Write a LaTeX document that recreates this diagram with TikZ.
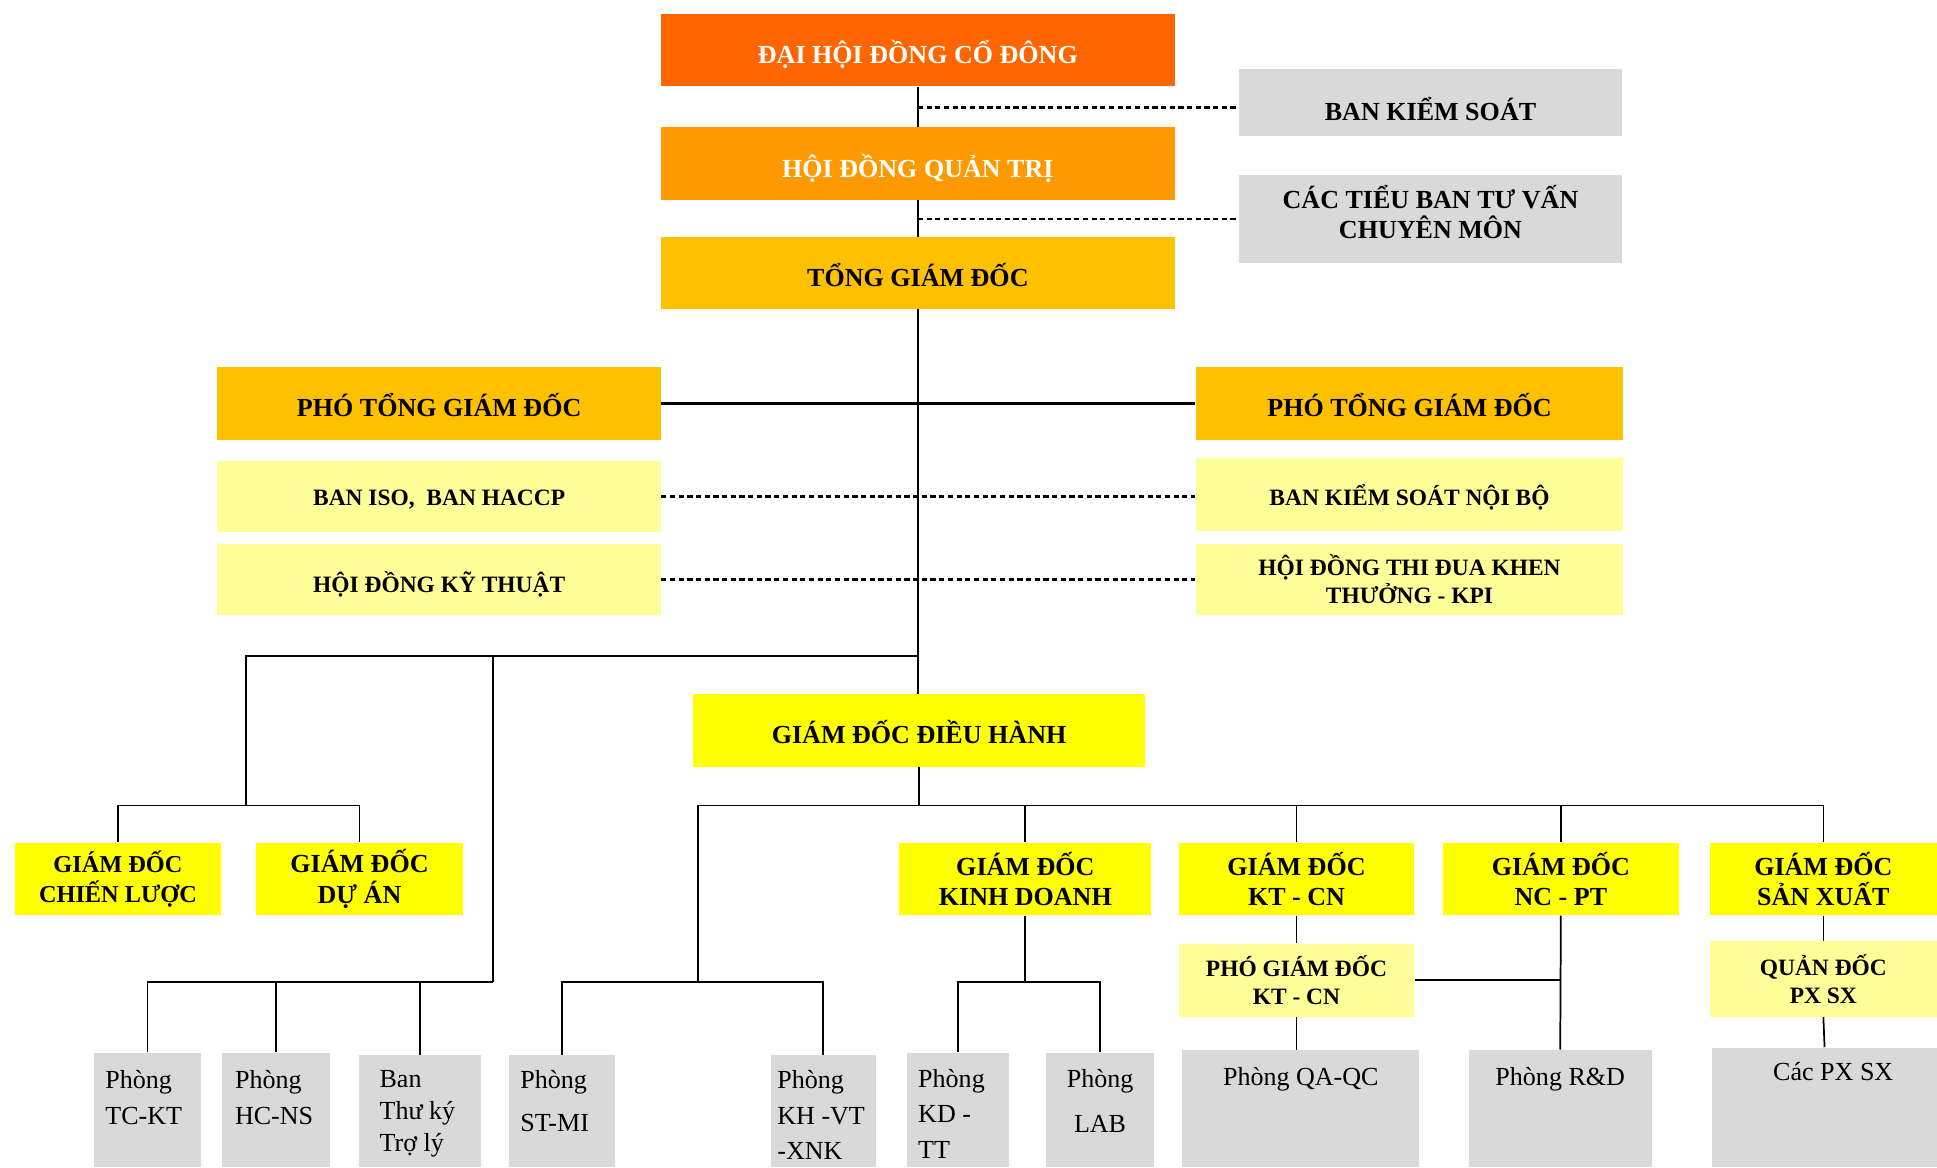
\documentclass[tikz,border=0pt]{standalone}
\usepackage{fontspec}
\setmainfont{Liberation Serif}
\definecolor{dhcolor}{HTML}{FF6600}
\definecolor{qtcolor}{HTML}{FF9900}
\definecolor{tgcolor}{HTML}{FFC000}
\definecolor{gdcolor}{HTML}{FFFF00}
\definecolor{lycolor}{HTML}{FFFF99}
\definecolor{gycolor}{HTML}{D9D9D9}

\begin{document}
\begin{tikzpicture}[x=0.25mm,y=-0.25mm,
  box/.style={inner sep=0pt,align=center,font=\bfseries\fontsize{15}{17.5}\selectfont},
  sbox/.style={box,font=\bfseries\fontsize{13.5}{16}\selectfont},
  capline/.style={text height=#1,text depth=0pt},
  gbox/.style={fill=gycolor,inner sep=0pt},
  ptext/.style={inner sep=0pt,align=left,anchor=north west},
  link/.style={line width=1pt},
  dlink/.style={line width=1.3pt,dash pattern=on 3pt off 2pt}]
  \useasboundingbox[fill=white] (0,0) rectangle (1568,945);

  % top levels
  \node[box,capline=15pt,fill=dhcolor,text=white,minimum width=104mm,minimum height=14.75mm] (dhdcd) at (743,40.5) {ĐẠI HỘI ĐỒNG CỔ ĐÔNG};
  \node[box,capline=15.5pt,fill=qtcolor,text=white,minimum width=104mm,minimum height=14.75mm] (hdqt) at (743,132.5) {HỘI ĐỒNG QUẢN TRỊ};
  \node[box,capline=15pt,fill=tgcolor,minimum width=104mm,minimum height=14.5mm] (tgd) at (743,221) {TỔNG GIÁM ĐỐC};
  \node[box,capline=21pt,fill=gycolor,minimum width=77.5mm,minimum height=13.5mm] (bks) at (1158,83) {BAN KIỂM SOÁT};
  \node[gbox,minimum width=77.5mm,minimum height=17.75mm] (ctb) at (1158,177.5) {};
  \node[box] (ctb-t) at (1158,171.5) {CÁC TIỂU BAN TƯ VẤN\\CHUYÊN MÔN};

  % deputies
  \node[box,capline=15pt,fill=tgcolor,minimum width=89.75mm,minimum height=14.75mm] (ptgdl) at (355.5,326.5) {PHÓ TỔNG GIÁM ĐỐC};
  \node[box,capline=15pt,fill=tgcolor,minimum width=86.5mm,minimum height=14.75mm] (ptgdr) at (1141,326.5) {PHÓ TỔNG GIÁM ĐỐC};
  \node[sbox,capline=10.4pt,fill=lycolor,minimum width=89.75mm,minimum height=14.5mm] (iso) at (355.5,402) {BAN ISO,\ \ BAN HACCP};
  \node[sbox,capline=15pt,fill=lycolor,minimum width=89.75mm,minimum height=14.5mm] (hdkt) at (355.5,469) {HỘI ĐỒNG KỸ THUẬT};
  \node[sbox,capline=11.8pt,fill=lycolor,minimum width=86.5mm,minimum height=14.75mm] (ksnb) at (1141,400.5) {BAN KIỂM SOÁT NỘI BỘ};
  \node[sbox,fill=lycolor,minimum width=86.5mm,minimum height=14.5mm] (thidua) at (1141,469) {HỘI ĐỒNG THI ĐUA KHEN\\THƯỞNG - KPI};

  % directors
  \node[box,capline=15pt,fill=gdcolor,minimum width=91.5mm,minimum height=14.75mm] (gddh) at (744,591.5) {GIÁM ĐỐC ĐIỀU HÀNH};
  \node[box,fill=gdcolor,minimum width=41.75mm,minimum height=14.75mm,font=\bfseries\fontsize{14}{17}\selectfont] (gdcl) at (95.5,711.5) {GIÁM ĐỐC\\CHIẾN LƯỢC};
  \node[box,fill=gdcolor,minimum width=42mm,minimum height=14.75mm] (gdda) at (291,711.5) {GIÁM ĐỐC\\DỰ ÁN};
  \node[box,fill=gdcolor,minimum width=51mm,minimum height=14.75mm] (gdkd) at (830,711.5) {GIÁM ĐỐC\\KINH DOANH};
  \node[box,fill=gdcolor,minimum width=47.75mm,minimum height=14.75mm] (gdkt) at (1049.5,711.5) {GIÁM ĐỐC\\KT - CN};
  \node[box,fill=gdcolor,minimum width=47.75mm,minimum height=14.75mm] (gdnc) at (1263.5,711.5) {GIÁM ĐỐC\\NC - PT};
  \node[box,fill=gdcolor,minimum width=46mm,minimum height=14.75mm] (gdsx) at (1476,711.5) {GIÁM ĐỐC\\SẢN XUẤT};
  \node[sbox,fill=lycolor,minimum width=47.75mm,minimum height=14.75mm] (pgdkt) at (1049.5,793.5) {PHÓ GIÁM ĐỐC\\KT - CN};
  \node[sbox,fill=lycolor,minimum width=46mm,minimum height=15.25mm] (qdpx) at (1476,792.5) {QUẢN ĐỐC\\PX SX};

  % departments
  \node[gbox,minimum width=21.75mm,minimum height=23.25mm] (tckt) at (119.5,898.5) {};
  \node[gbox,minimum width=21.75mm,minimum height=23.25mm] (hcns) at (223.5,898.5) {};
  \node[gbox,minimum width=24.5mm,minimum height=22.75mm] (tky) at (340,899.5) {};
  \node[gbox,minimum width=21.5mm,minimum height=22.75mm] (stmi) at (455,899.5) {};
  \node[gbox,minimum width=21.25mm,minimum height=22.75mm] (khvt) at (666.5,899.5) {};
  \node[gbox,minimum width=20.75mm,minimum height=23.25mm] (kdtt) at (775.5,898.5) {};
  \node[gbox,minimum width=21.75mm,minimum height=23.25mm] (lab) at (890.5,898.5) {};
  \node[gbox,minimum width=48mm,minimum height=23.75mm] (qaqc) at (1053,897.5) {};
  \node[gbox,minimum width=37mm,minimum height=23.75mm] (rd) at (1263,897.5) {};
  \node[gbox,minimum width=45.5mm,minimum height=24.25mm] (pxsx) at (1477,896.5) {};

  \node[ptext,font=\fontsize{15}{21}\selectfont] (tckt-t) at (85,866) {Phòng\\TC-KT};
  \node[ptext,font=\fontsize{15}{21}\selectfont] (hcns-t) at (190,866) {Phòng\\HC-NS};
  \node[ptext,font=\fontsize{15}{18.5}\selectfont] (tky-t) at (307,866) {Ban\\Thư ký\\Trợ lý};
  \node[ptext,font=\fontsize{15}{25}\selectfont] (stmi-t) at (421,866) {Phòng\\ST-MI};
  \node[ptext,font=\fontsize{15}{20.6}\selectfont] (khvt-t) at (629,866) {Phòng\\KH -VT\\-XNK};
  \node[ptext,font=\fontsize{15}{20.6}\selectfont] (kdtt-t) at (743,865) {Phòng\\KD -\\TT};
  \node[inner sep=0pt,align=center,anchor=north,font=\fontsize{15}{26}\selectfont] (lab-t) at (890.5,865) {Phòng\\LAB};
  \node[inner sep=0pt,anchor=base,font=\fontsize{15}{18}\selectfont] (qaqc-t) at (1053,879) {Phòng QA-QC};
  \node[inner sep=0pt,anchor=base,font=\fontsize{15}{18}\selectfont] (rd-t) at (1263,879) {Phòng R\&D};
  \node[inner sep=0pt,anchor=base,font=\fontsize{15}{18}\selectfont] (pxsx-t) at (1484,875) {Các PX SX};

  % junctions
  \coordinate (jtop) at (743,531);
  \coordinate (jleft) at (199,531);
  \coordinate (jmid) at (399,531);
  \coordinate (jcl) at (199,652);
  \coordinate (jvp) at (399,795);
  \coordinate (jdh) at (744,652);
  \coordinate (jst) at (565,652);
  \coordinate (jsx) at (565,795);
  \coordinate (jkd) at (830,795);

  % spine
  \draw[link] (dhdcd.south) -- (hdqt.north);
  \draw[link] (hdqt.south) -- (tgd.north);
  \draw[link] (tgd.south) -- (tgd.south |- gddh.north);
  \draw[dlink] ([yshift=-1mm]bks.west -| dhdcd.south) -- ([yshift=-1mm]bks.west);
  \draw[dlink] (hdqt.south |- ctb.west) -- (ctb.west);
  \draw[line width=1.6pt] (ptgdl.east) -- (ptgdr.west);
  \draw[dlink] (iso.east) -- (iso.east -| ksnb.west);
  \draw[dlink] (hdkt.east) -- (hdkt.east -| thidua.west);

  % left branch
  \draw[link] (jtop) -- (jleft) -- (jcl);
  \draw[link] (gdcl.north) |- (jcl) -| (gdda.north);
  \draw[link] (jmid) -- (jvp);
  \draw[link] (tckt.north) |- (jvp);
  \draw[link] (hcns.north) -- (hcns.north |- jvp);
  \draw[link] (tky.north) -- (tky.north |- jvp);

  % executive branch
  \draw[link] (gddh.south) -- (jdh);
  \draw[link] (jst) -| (gdsx.north);
  \draw[link] (jst) -- (jsx);
  \draw[link] (stmi.north) |- (jsx) -| (khvt.north);
  \draw[link] (gdkd.north) -- (gdkd.north |- jdh);
  \draw[link] (gdkt.north) -- (gdkt.north |- jdh);
  \draw[link] (gdnc.north) -- (gdnc.north |- jdh);
  \draw[link] (gdkd.south) -- (jkd);
  \draw[link] (kdtt.north) |- (jkd) -| (lab.north);
  \draw[link] (gdkt.south) -- (pgdkt.north);
  \draw[link] (pgdkt.south) -- (pgdkt.south |- qaqc.north);
  \draw[link] (gdnc.south) -- (rd.north);
  \draw[link] (pgdkt.east) -- (pgdkt.east -| gdnc.south);
  \draw[link] (gdsx.south) -- (qdpx.north);
  \draw[link] (qdpx.south) -- (pxsx.north);
\end{tikzpicture}
\end{document}
